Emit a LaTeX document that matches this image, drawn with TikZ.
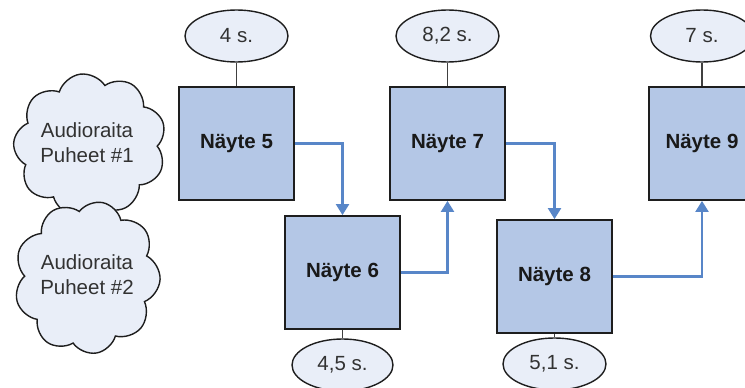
\documentclass[tikz,border=0pt]{standalone}
\usepackage{fontspec}
\setmainfont{Liberation Sans}
\usetikzlibrary{arrows.meta,shapes.symbols,shapes.geometric}
\definecolor{boxfill}{RGB}{180,199,230}
\definecolor{lightfill}{RGB}{233,238,248}
\definecolor{arrowblue}{RGB}{88,134,200}
\definecolor{darkline}{RGB}{30,30,30}
\definecolor{labelgray}{RGB}{50,50,50}
\tikzset{
  x=1pt, y=-1pt,
  stepbox/.style={draw=darkline, line width=1.8pt, fill=boxfill, minimum width=115pt, minimum height=113pt, inner sep=0pt,
    font=\fontsize{20.5}{24}\selectfont\bfseries, text=black!90},
  timeell/.style={ellipse, draw=darkline, line width=1.4pt, fill=lightfill, minimum width=103pt, minimum height=52pt, inner sep=0pt,
    font=\fontsize{20.5}{24}\selectfont, text=labelgray},
  tie/.style={draw=darkline!85, line width=1.7pt},
  flow/.style={draw=arrowblue, line width=2.2pt, -{Triangle[width=13pt,length=11pt]}},
  cloudshape/.style={cloud, draw=darkline, line width=1.4pt, fill=lightfill, cloud puffs=9, cloud puff arc=130, aspect=1, inner sep=0pt},
  cloudtext/.style={align=center, font=\fontsize{20.5}{25}\selectfont, text=labelgray},
}
\begin{document}
\begin{tikzpicture}
\useasboundingbox (0,0) rectangle (745,388);
\clip (0,0) rectangle (745,388);

% clouds
\node[cloudshape, minimum width=153pt, minimum height=143pt, rotate=8] (c1) at (90,145) {};
\node[cloudshape, minimum width=146pt, minimum height=153pt, rotate=-12] (c2) at (87,277.5) {};
\node[cloudtext] (t1) at (87,142.5) {Audioraita\\Puheet \#1};
\node[cloudtext] (t2) at (87,274.5) {Audioraita\\Puheet \#2};

% boxes
\node[stepbox] (b5) at (236.5,143.5) {Näyte 5};
\node[stepbox] (b6) at (342.5,272.5) {Näyte 6};
\node[stepbox] (b7) at (447.5,143.5) {Näyte 7};
\node[stepbox] (b8) at (554.5,276.5) {Näyte 8};
\node[stepbox, minimum width=106pt] (b9) at (702,143.5) {Näyte 9};

% time ellipses
\node[timeell] (e5) at (236.5,36) {4 s.};
\node[timeell] (e7) at (447.5,36) {8,2 s.};
\node[timeell] (e9) at (702,36) {7 s.};
\node[timeell, minimum width=101pt] (e6) at (342.5,365) {4,5 s.};
\node[timeell] (e8) at (554.5,364) {5,1 s.};

% ties
\draw[tie] (e5) -- (b5);
\draw[tie] (e7) -- (b7);
\draw[tie] (e9) -- (b9);
\draw[tie] (b6) -- (e6);
\draw[tie] (b8) -- (e8);

% flow arrows
\draw[flow] (b5.east) -| (b6.north);
\draw[flow] (b6.east) -| (b7.south);
\draw[flow] (b7.east) -| (b8.north);
\draw[flow] (b8.east) -| (b9.south);
\end{tikzpicture}
\end{document}
